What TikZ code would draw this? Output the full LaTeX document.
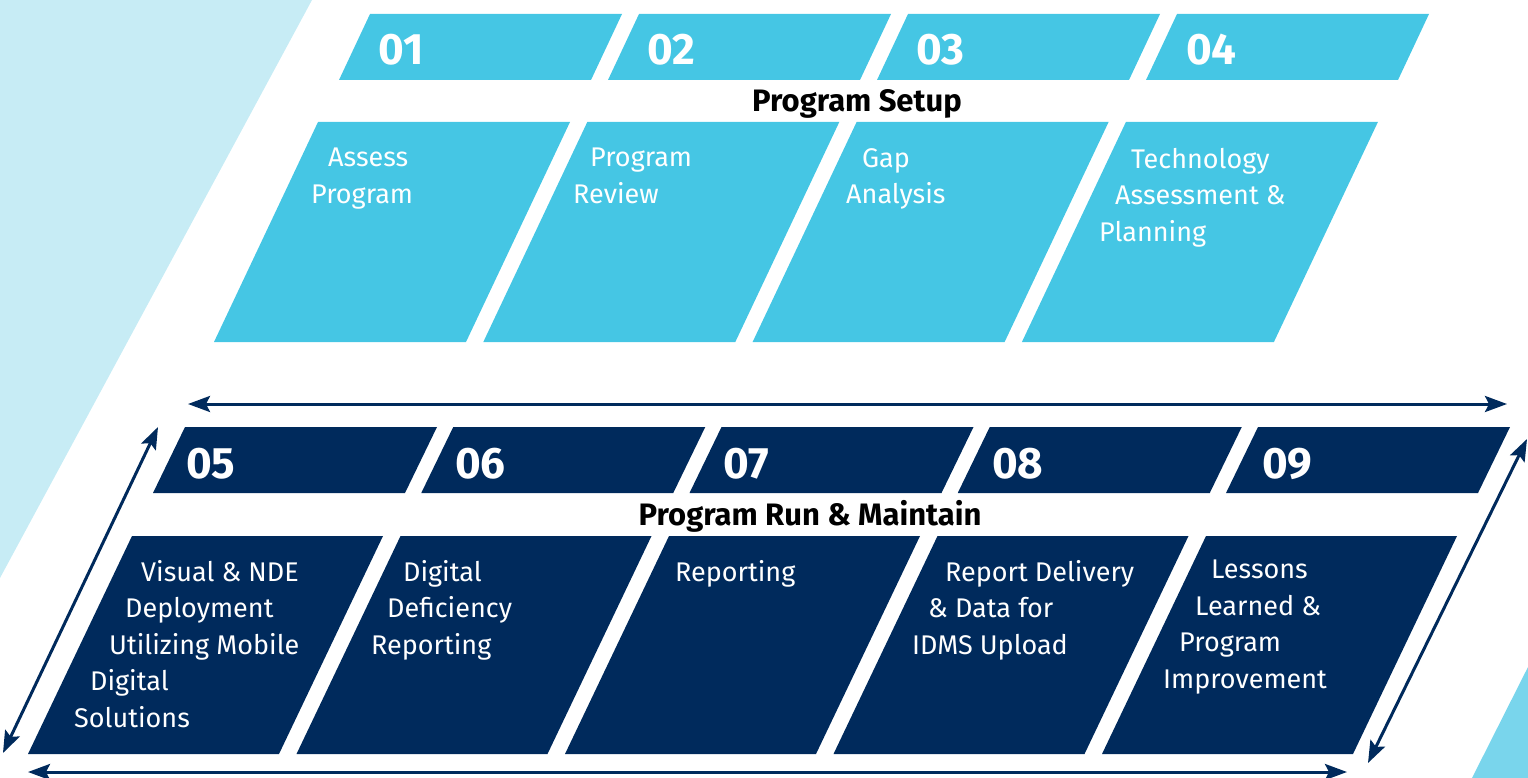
\documentclass[tikz,border=0pt]{standalone}
\usepackage{fontspec}
\setmainfont{Fira Sans}
\usetikzlibrary{arrows.meta}

\definecolor{skyblue}{HTML}{45C6E4}
\definecolor{navy}{HTML}{002A5C}
\definecolor{paleblue}{HTML}{C7ECF5}
\definecolor{cornerblue}{HTML}{79D5EC}

\begin{document}
\begin{tikzpicture}[x=1pt,y=-1pt,
                    setup/.style={fill=skyblue},
                    maintain/.style={fill=navy},
                    num node/.style={anchor=base west,inner sep=0,text=white,font=\bfseries\fontsize{44}{44}\selectfont},
                    step node/.style={anchor=north west,inner sep=0,align=left,text=white,font=\fontsize{27}{36.5}\selectfont},
                    title node/.style={anchor=base,inner sep=0,font=\bfseries\fontsize{31}{31}\selectfont},
                    both ways/.style={{Stealth[length=22pt,width=16pt,inset=4pt]}-{Stealth[length=22pt,width=16pt,inset=4pt]},draw=navy,line width=3pt}]

  \useasboundingbox (0,0) rectangle (1528,778);

  % background wedges
  \fill[paleblue] (0,0) -- (312,0) -- (0,578) -- cycle;
  \fill[cornerblue] (1472,778) -- (1528,667) -- (1528,778) -- cycle;

  % setup row: number bars and step boxes
  \foreach \i in {0,...,3} {
    \fill[setup] ({370+269*\i},14) -- ++(252,0) -- ++(-31,66) -- ++(-252,0) -- cycle;
    \fill[setup] ({318+269.3*\i},122) -- ++(252,0) -- ++(-104,220) -- ++(-252,0) -- cycle;
  }
  % run & maintain row
  \foreach \i in {0,...,4} {
    \fill[maintain] ({185+268.25*\i},427) -- ++(252,0) -- ++(-32,66) -- ++(-252,0) -- cycle;
    \fill[maintain] ({132+268.5*\i},536) -- ++(251,0) -- ++(-104,218) -- ++(-251,0) -- cycle;
  }

  \node[num node] (n1) at (378,65) {01};
  \node[num node] (n2) at (647,65) {02};
  \node[num node] (n3) at (916,65) {03};
  \node[num node] (n4) at (1186,65) {04};
  \node[num node] (n5) at (186,478) {05};
  \node[num node] (n6) at (455,478) {06};
  \node[num node] (n7) at (723,478) {07};
  \node[num node] (n8) at (992,478) {08};
  \node[num node] (n9) at (1262,478) {09};

  \node[title node] (setup) at (857,112) {Program Setup};
  \node[title node] (run) at (810,525) {Program Run \& Maintain};

  \node[step node] (s1) at (311,148) {\hspace*{17pt}Assess\\Program};
  \node[step node] (s2) at (573,148) {\hspace*{17pt}Program\\Review};
  \node[step node] (s3) at (846,148) {\hspace*{16pt}Gap\\Analysis};
  \node[step node] (s4) at (1099,148) {\hspace*{32pt}Technology\\\hspace*{16pt}Assessment \&\\Planning};
  \node[step node] (s5) at (74,560) {\hspace*{67pt}Visual \& NDE\\\hspace*{51pt}Deployment\\\hspace*{35pt}Utilizing Mobile\\\hspace*{16pt}Digital\\Solutions};
  \node[step node] (s6) at (371,560) {\hspace*{32pt}Digital\\\hspace*{16pt}Deficiency\\Reporting};
  \node[step node] (s7) at (675,560) {Reporting};
  \node[step node] (s8) at (912,560) {\hspace*{33pt}Report Delivery\\\hspace*{16pt}\& Data for\\IDMS Upload};
  \node[step node] (s9) at (1163,560) {\hspace*{48pt}Lessons\\\hspace*{32pt}Learned \&\\\hspace*{16pt}Program\\Improvement};

  % cycle arrows around the lower row
  \coordinate (top l) at (188,404);
  \coordinate (top r) at (1507,404);
  \coordinate (bot l) at (28,772);
  \coordinate (bot r) at (1347,772);
  \coordinate (left t) at (158,427);
  \coordinate (left b) at (3,753);
  \coordinate (right t) at (1527,439);
  \coordinate (right b) at (1368,763);

  \draw[both ways] (top l) -- (top r);
  \draw[both ways] (bot l) -- (bot r);
  \draw[both ways] (left t) -- (left b);
  \draw[both ways] (right t) -- (right b);
\end{tikzpicture}
\end{document}
